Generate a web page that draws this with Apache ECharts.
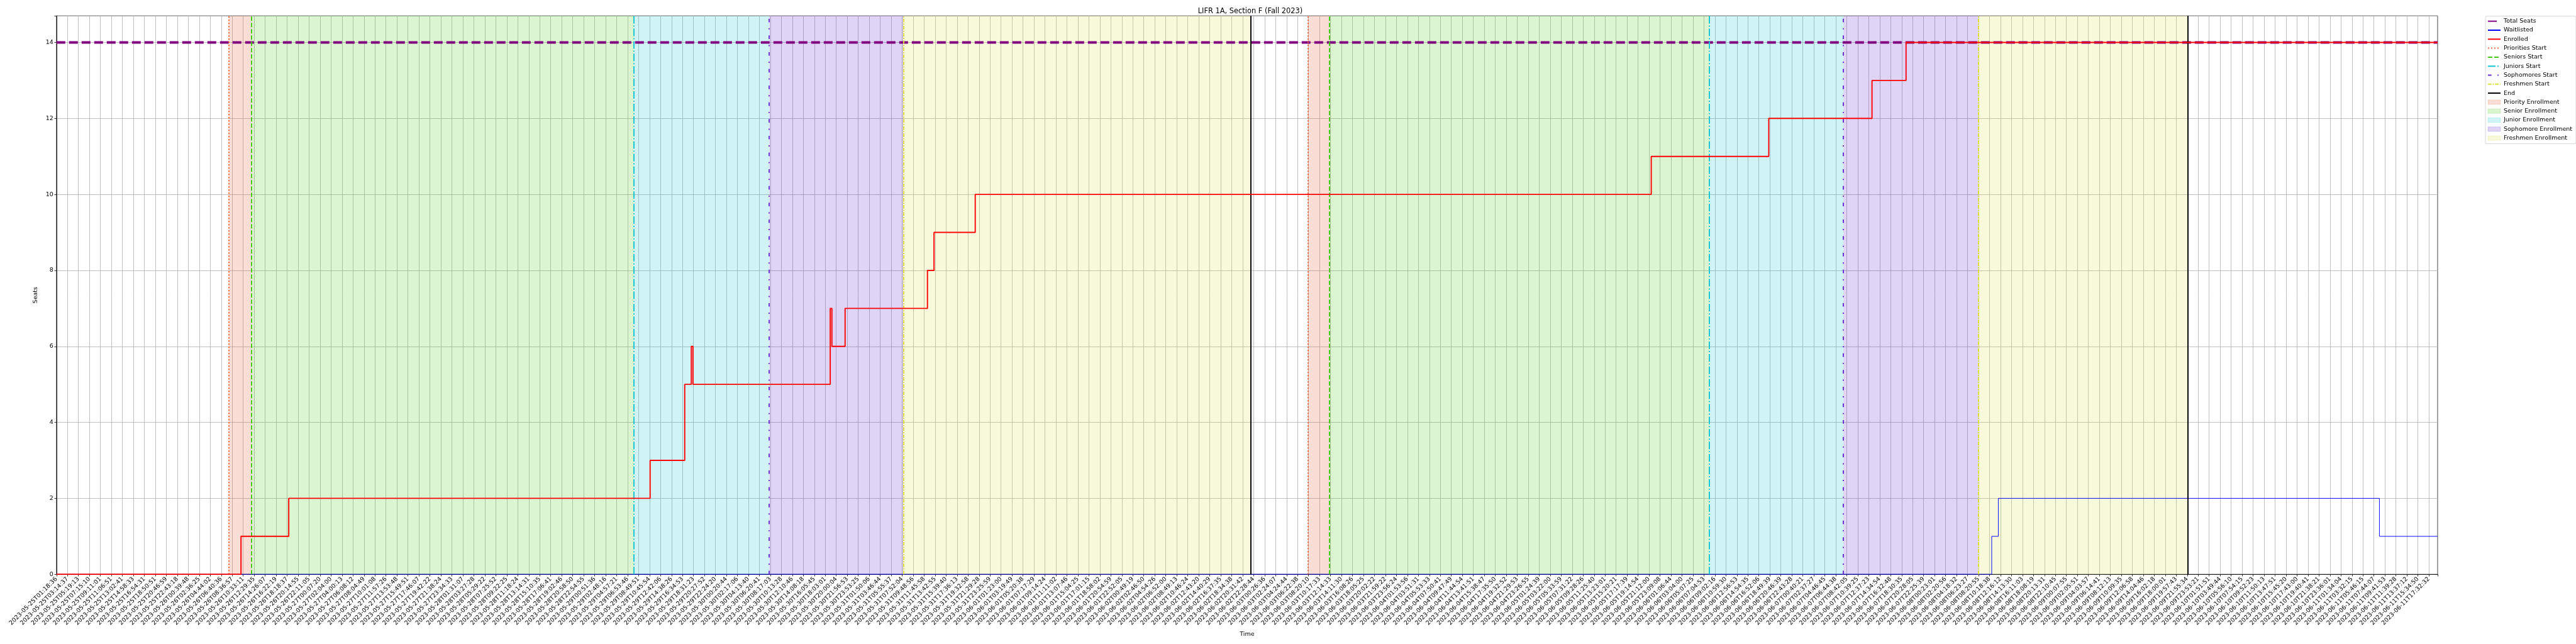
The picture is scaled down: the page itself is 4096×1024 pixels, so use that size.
<!DOCTYPE html>
<html>
<head>
<meta charset="utf-8">
<script src="https://cdn.jsdelivr.net/npm/echarts@6/dist/echarts.min.js"></script>
<style>
html,body{margin:0;padding:0;background:#fff;}
#chart{width:4096px;height:1024px;}
</style>
</head>
<body>
<div id="chart"></div>
<script>
// ---------------- DATA ----------------
const titleText = 'LIFR 1A, Section F (Fall 2023)';
const xLabels = [
'2023-05-25T01:18:36','2023-05-25T03:14:37','2023-05-25T05:19:13','2023-05-25T07:15:10','2023-05-25T09:11:01','2023-05-25T11:06:51','2023-05-25T13:02:41','2023-05-25T14:58:33','2023-05-25T16:54:31','2023-05-25T18:50:51',
'2023-05-25T20:46:59','2023-05-25T22:43:18','2023-05-26T00:39:48','2023-05-26T02:36:25','2023-05-26T04:44:02','2023-05-26T06:40:36','2023-05-26T08:36:57','2023-05-26T10:33:11','2023-05-26T12:29:35','2023-05-26T14:26:07',
'2023-05-26T16:22:19','2023-05-26T18:18:37','2023-05-26T20:14:55','2023-05-26T22:11:05','2023-05-27T00:07:20','2023-05-27T02:04:00','2023-05-27T04:00:13','2023-05-27T06:08:12','2023-05-27T08:04:49','2023-05-27T10:01:08',
'2023-05-27T11:57:26','2023-05-27T13:53:48','2023-05-27T15:49:51','2023-05-27T17:46:07','2023-05-27T19:42:22','2023-05-27T21:38:24','2023-05-27T23:34:33','2023-05-28T01:31:07','2023-05-28T03:27:28','2023-05-28T05:29:22',
'2023-05-28T07:25:52','2023-05-28T09:22:25','2023-05-28T11:18:24','2023-05-28T13:14:31','2023-05-28T15:10:35','2023-05-28T17:06:41','2023-05-28T19:02:46','2023-05-28T20:58:50','2023-05-28T22:54:55','2023-05-29T00:51:36',
'2023-05-29T02:48:16','2023-05-29T04:57:21','2023-05-29T06:53:46','2023-05-29T08:49:51','2023-05-29T10:45:54','2023-05-29T12:42:06','2023-05-29T14:38:26','2023-05-29T16:34:53','2023-05-29T18:31:23','2023-05-29T20:27:52',
'2023-05-29T22:24:20','2023-05-30T00:20:44','2023-05-30T02:17:06','2023-05-30T04:13:40','2023-05-30T06:20:41','2023-05-30T08:17:03','2023-05-30T10:13:28','2023-05-30T12:10:46','2023-05-30T14:08:18','2023-05-30T16:05:45',
'2023-05-30T18:03:01','2023-05-30T20:00:04','2023-05-30T21:56:53','2023-05-30T23:53:25','2023-05-31T01:50:06','2023-05-31T03:46:44','2023-05-31T05:55:37','2023-05-31T07:52:04','2023-05-31T09:48:56','2023-05-31T11:45:58',
'2023-05-31T13:42:55','2023-05-31T15:39:40','2023-05-31T17:36:13','2023-05-31T19:32:58','2023-05-31T21:29:28','2023-05-31T23:25:59','2023-06-01T01:23:00','2023-06-01T03:19:49','2023-06-01T05:20:38','2023-06-01T07:17:29',
'2023-06-01T09:14:24','2023-06-01T11:11:02','2023-06-01T13:07:46','2023-06-01T15:04:25','2023-06-01T17:01:15','2023-06-01T18:58:02','2023-06-01T20:54:59','2023-06-01T22:52:05','2023-06-02T00:49:19','2023-06-02T02:46:50',
'2023-06-02T04:54:26','2023-06-02T06:52:00','2023-06-02T08:49:13','2023-06-02T10:46:24','2023-06-02T12:43:20','2023-06-02T14:40:29','2023-06-02T16:37:35','2023-06-02T18:34:38','2023-06-02T20:31:42','2023-06-02T22:28:44',
'2023-06-03T00:26:36','2023-06-03T02:24:07','2023-06-03T04:24:44','2023-06-03T06:22:38','2023-06-03T08:20:10','2023-06-03T10:17:33','2023-06-03T12:14:33','2023-06-03T14:11:30','2023-06-03T16:08:26','2023-06-03T18:05:25',
'2023-06-03T20:02:22','2023-06-03T21:59:22','2023-06-03T23:56:24','2023-06-04T01:53:56','2023-06-04T03:51:31','2023-06-04T05:53:33','2023-06-04T07:50:41','2023-06-04T09:47:49','2023-06-04T11:44:54','2023-06-04T13:41:51',
'2023-06-04T15:38:47','2023-06-04T17:35:50','2023-06-04T19:32:52','2023-06-04T21:29:53','2023-06-04T23:26:55','2023-06-05T01:24:39','2023-06-05T03:22:00','2023-06-05T05:33:59','2023-06-05T07:31:22','2023-06-05T09:28:26',
'2023-06-05T11:25:40','2023-06-05T13:23:01','2023-06-05T15:20:21','2023-06-05T17:17:39','2023-06-05T19:14:54','2023-06-05T21:12:00','2023-06-05T23:09:08','2023-06-06T01:06:44','2023-06-06T03:04:00','2023-06-06T05:07:25',
'2023-06-06T07:04:53','2023-06-06T09:02:16','2023-06-06T10:59:30','2023-06-06T12:56:53','2023-06-06T14:54:35','2023-06-06T16:52:06','2023-06-06T18:49:39','2023-06-06T20:46:39','2023-06-06T22:43:28','2023-06-07T00:40:21',
'2023-06-07T02:37:27','2023-06-07T04:46:45','2023-06-07T06:44:38','2023-06-07T08:42:05','2023-06-07T10:39:25','2023-06-07T12:37:23','2023-06-07T14:34:54','2023-06-07T16:32:48','2023-06-07T18:30:35','2023-06-07T20:28:05',
'2023-06-07T22:25:39','2023-06-08T00:23:01','2023-06-08T02:20:56','2023-06-08T04:18:32','2023-06-08T06:23:27','2023-06-08T08:20:55','2023-06-08T10:18:38','2023-06-08T12:16:12','2023-06-08T14:13:30','2023-06-08T16:11:03',
'2023-06-08T18:08:19','2023-06-08T20:13:31','2023-06-08T22:10:45','2023-06-09T00:07:55','2023-06-09T02:05:51','2023-06-09T04:03:57','2023-06-09T06:14:41','2023-06-09T08:12:13','2023-06-09T10:09:35','2023-06-09T12:06:58',
'2023-06-09T14:04:46','2023-06-09T16:02:18','2023-06-09T18:00:01','2023-06-09T19:57:43','2023-06-09T21:55:34','2023-06-09T23:53:21','2023-06-10T01:51:51','2023-06-10T03:49:44','2023-06-10T05:56:10','2023-06-10T07:54:15',
'2023-06-10T09:52:23','2023-06-10T11:50:13','2023-06-10T13:47:51','2023-06-10T15:45:20','2023-06-10T17:43:00','2023-06-10T19:40:41','2023-06-10T21:38:21','2023-06-10T23:36:01','2023-06-11T01:34:04','2023-06-11T03:32:15',
'2023-06-11T05:46:15','2023-06-11T07:44:07','2023-06-11T09:41:53','2023-06-11T11:39:28','2023-06-11T13:37:12','2023-06-11T15:34:50','2023-06-11T17:32:32'
];
// x positions are measured in tick-label units (0 = first label)
const xEnd = 216.8;
const totalSeats = 14;
const enrolledX = [0, 16.8, 21.15, 54.05, 57.2, 57.8, 57.95, 70.45, 70.6, 71.8, 79.3, 79.9, 83.65, 145.2, 155.9, 165.3, 168.4, 216.8];
const enrolledY = [0, 1, 2, 3, 5, 6, 5, 7, 6, 7, 8, 9, 10, 11, 12, 13, 14, 14];
const waitlistedX = [0, 176.2, 176.8, 211.5, 216.8];
const waitlistedY = [0, 1, 2, 1, 1];
const prioritiesStart = [15.66, 113.94];
const seniorsStart = [17.77, 115.9];
const juniorsStart = [52.57, 150.5];
const sophomoresStart = [64.88, 162.7];
const freshmenStart = [77.1, 174.96];
const endTimes = [108.75, 194.07];
const yTicks = [0, 2, 4, 6, 8, 10, 12, 14];

// ---------------- STYLE ----------------
const FONT = 'DejaVu Sans';
const C = {
  priority: 'rgb(232,96,48)',
  senior: 'rgb(70,200,22)',
  junior: 'rgb(20,196,210)',
  soph: 'rgb(100,44,210)',
  fresh: 'rgb(222,222,60)'
};
const fill = {
  priority: 'rgba(230,90,45,0.2)',
  senior: 'rgba(70,205,20,0.2)',
  junior: 'rgba(20,200,210,0.2)',
  soph: 'rgba(95,40,205,0.2)',
  fresh: 'rgba(220,220,70,0.2)'
};
const lw = 1.9;

function pairs(xs, ys){ return xs.map((x,i)=>[x, ys[i]]); }
function vline(name, xs, color, type, width){
  const ls = {color: color, width: width, type: type};
  return {
    name: name, type: 'line', data: [], symbol: 'none',
    lineStyle: ls, itemStyle: {color: color},
    markLine: {
      silent: true, symbol: ['none','none'], label: {show:false},
      lineStyle: ls, emphasis: {disabled: true},
      data: xs.map(x => ({xAxis: x}))
    }
  };
}
function span(name, starts, ends, color){
  return {
    name: name, type: 'line', data: [], symbol: 'none',
    itemStyle: {color: color}, lineStyle: {color: color},
    markArea: {
      silent: true, itemStyle: {color: color},
      emphasis: {disabled: true},
      data: starts.map((s,i)=>[{xAxis: s}, {xAxis: ends[i]}])
    }
  };
}
const hideSym = {opacity: 0};

const chart = echarts.init(document.getElementById('chart'), null, {renderer: 'canvas'});
const option = {
  animation: false,
  backgroundColor: '#fff',
  textStyle: {fontFamily: FONT},
  title: {
    text: titleText, left: 1983, top: 8, textAlign: 'center',
    textStyle: {fontFamily: FONT, fontSize: 11.4, fontWeight: 'normal', color: '#000'}
  },
  grid: {left: 89.8, right: 220, top: 25.2, bottom: 110.8, containLabel: false, outerBoundsMode: 'none',
         show: true, borderColor: '#000', borderWidth: 0.8, backgroundColor: 'transparent'},
  legend: {
    orient: 'vertical', left: 3952, top: 25.7,
    padding: [2.5, 6, 3.5, 3], itemGap: 3.3, itemWidth: 20, itemHeight: 7,
    backgroundColor: 'rgba(255,255,255,0.8)', borderColor: '#cccccc', borderWidth: 0.8, borderRadius: 2,
    textStyle: {fontFamily: FONT, fontSize: 9.5, color: '#000', lineHeight: 11},
    selectedMode: false,
    data: [
      {name: 'Total Seats', itemStyle: hideSym}, {name: 'Waitlisted', itemStyle: hideSym}, {name: 'Enrolled', itemStyle: hideSym},
      {name: 'Priorities Start', itemStyle: hideSym}, {name: 'Seniors Start', itemStyle: hideSym}, {name: 'Juniors Start', itemStyle: hideSym},
      {name: 'Sophomores Start', itemStyle: hideSym}, {name: 'Freshmen Start', itemStyle: hideSym}, {name: 'End', itemStyle: hideSym},
      {name: 'Priority Enrollment', icon: 'rect', itemStyle: {color: fill.priority, borderColor: 'rgba(230,90,45,0.25)', borderWidth: 0.8}},
      {name: 'Senior Enrollment', icon: 'rect', itemStyle: {color: fill.senior, borderColor: 'rgba(70,205,20,0.25)', borderWidth: 0.8}},
      {name: 'Junior Enrollment', icon: 'rect', itemStyle: {color: fill.junior, borderColor: 'rgba(20,200,210,0.25)', borderWidth: 0.8}},
      {name: 'Sophomore Enrollment', icon: 'rect', itemStyle: {color: fill.soph, borderColor: 'rgba(95,40,205,0.25)', borderWidth: 0.8}},
      {name: 'Freshmen Enrollment', icon: 'rect', itemStyle: {color: fill.fresh, borderColor: 'rgba(220,220,70,0.25)', borderWidth: 0.8}}
    ]
  },
  xAxis: {
    type: 'value', min: 0, max: xEnd, interval: 1,
    name: 'Time', nameLocation: 'middle', nameGap: 87,
    nameTextStyle: {fontFamily: FONT, fontSize: 9.5, color: '#000'},
    axisLine: {show: true, onZero: false, lineStyle: {color: '#000', width: 0.8}},
    axisTick: {show: true, length: 3.3, lineStyle: {color: '#000', width: 0.8}},
    axisLabel: {
      rotate: 45, margin: 6, fontFamily: FONT, fontSize: 9.5, color: '#000',
      showMinLabel: true, showMaxLabel: true, hideOverlap: false,
      formatter: function(v){
        const r = Math.round(v);
        if (Math.abs(v - r) > 1e-6) return '';
        return xLabels[r] || '';
      }
    },
    splitLine: {show: true, lineStyle: {color: '#b0b0b0', width: 0.8}}
  },
  yAxis: {
    type: 'value', min: 0, max: 14.7, interval: 2,
    name: 'Seats', nameLocation: 'middle', nameGap: 26, nameRotate: 90,
    nameTextStyle: {fontFamily: FONT, fontSize: 9.5, color: '#000'},
    axisLine: {show: true, lineStyle: {color: '#000', width: 0.8}},
    axisTick: {show: true, length: 3.3, lineStyle: {color: '#000', width: 0.8}},
    axisLabel: {
      margin: 5, fontFamily: FONT, fontSize: 9.5, color: '#000',
      formatter: function(v){ return yTicks.indexOf(v) >= 0 ? String(v) : ''; }
    },
    splitLine: {show: true, lineStyle: {color: '#b0b0b0', width: 0.8}}
  },
  series: [
    span('Priority Enrollment', prioritiesStart, seniorsStart, fill.priority),
    span('Senior Enrollment', seniorsStart, juniorsStart, fill.senior),
    span('Junior Enrollment', juniorsStart, sophomoresStart, fill.junior),
    span('Sophomore Enrollment', sophomoresStart, freshmenStart, fill.soph),
    span('Freshmen Enrollment', freshmenStart, endTimes, fill.fresh),
    {
      name: 'Total Seats', type: 'line', symbol: 'none',
      data: [[0, totalSeats], [xEnd, totalSeats]],
      lineStyle: {color: '#800080', width: 3.8, type: [14, 6]},
      itemStyle: {color: '#800080'}, z: 3
    },
    {
      name: 'Waitlisted', type: 'line', symbol: 'none', step: 'end',
      data: pairs(waitlistedX, waitlistedY),
      lineStyle: {color: '#0000ff', width: 0.95}, itemStyle: {color: '#0000ff'}, z: 4
    },
    {
      name: 'Enrolled', type: 'line', symbol: 'none', step: 'end',
      data: pairs(enrolledX, enrolledY),
      lineStyle: {color: '#ff0000', width: lw}, itemStyle: {color: '#ff0000'}, z: 5
    },
    vline('Priorities Start', prioritiesStart, C.priority, [1.9, 3.1], lw),
    vline('Seniors Start', seniorsStart, C.senior, [7, 3], lw),
    vline('Juniors Start', juniorsStart, C.junior, [12, 3, 1.9, 3], lw),
    vline('Sophomores Start', sophomoresStart, C.soph, [5.7, 9.5, 1.9, 9.5], lw),
    vline('Freshmen Start', freshmenStart, C.fresh, [5.7, 1.9, 1.9, 1.9], lw),
    vline('End', endTimes, '#000000', 'solid', lw)
  ]
};
chart.setOption(option);
</script>
</body>
</html>
